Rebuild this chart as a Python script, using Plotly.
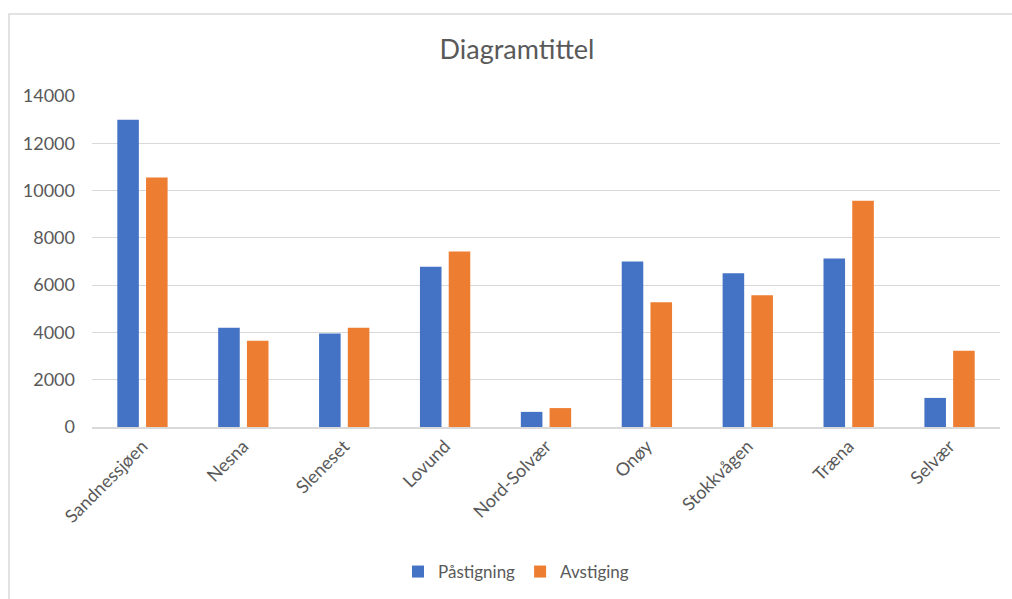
import plotly.graph_objects as go

# Boardings and alightings per stop
stops = ["Sandnessjøen", "Nesna", "Sleneset", "Lovund", "Nord-Solvær",
         "Onøy", "Stokkvågen", "Træna", "Selvær"]
pastigning = [13000, 4200, 3950, 6780, 640, 7000, 6500, 7130, 1230]
avstiging = [10550, 3650, 4200, 7420, 800, 5280, 5570, 9570, 3220]
y_ticks = [0, 2000, 4000, 6000, 8000, 10000, 12000, 14000]
y_tick_labels = [str(v) for v in y_ticks]

W, H = 1012, 599
L, R, T, B = 92, 12, 96, 172
plot_w = W - L - R
plot_h = H - T - B

TEXT = "#595959"
GRID = "#d9d9d9"
FONT = "Lato"

fig = go.Figure()
fig.add_trace(go.Bar(x=stops, y=pastigning, name="Påstigning",
                     marker=dict(color="#4472C4", line=dict(width=0))))
fig.add_trace(go.Bar(x=stops, y=avstiging, name="Avstiging",
                     marker=dict(color="#ED7D31", line=dict(width=0))))


def px_x(p):
    return (p - L) / plot_w


def px_y(p):
    return (H - B - p) / plot_h


# outer chart-area frame
fig.add_shape(type="rect", xref="paper", yref="paper",
              x0=px_x(9), x1=px_x(1020), y0=px_y(610), y1=px_y(14),
              line=dict(color=GRID, width=1.5), fillcolor="rgba(0,0,0,0)",
              layer="below")

fig.update_layout(
    width=W, height=H,
    margin=dict(l=L, r=R, t=T, b=B, autoexpand=False),
    paper_bgcolor="white", plot_bgcolor="white",
    font=dict(family=FONT, color=TEXT, size=17),
    title=dict(text="Diagramtittel", x=517 / W, xanchor="center",
               y=1 - 50 / H, yanchor="middle", yref="container",
               font=dict(family=FONT, size=27, color=TEXT)),
    barmode="group", bargap=0.43, bargroupgap=0.25,
    showlegend=True,
    legend=dict(orientation="h", x=px_x(516), xanchor="center",
                y=px_y(572), yanchor="middle",
                font=dict(family=FONT, size=17, color=TEXT),
                itemwidth=30, traceorder="normal"),
    xaxis=dict(showgrid=False, showline=True, linecolor=GRID, linewidth=1.5,
               ticks="", tickangle=-45, tickfont=dict(size=18, color=TEXT)),
    yaxis=dict(range=[0, 14000], tickvals=y_ticks, ticktext=y_tick_labels,
               showgrid=True, gridcolor=GRID, gridwidth=1, zeroline=False,
               showline=False, ticks="", ticklabelstandoff=16,
               tickfont=dict(size=18, color=TEXT)),
)

fig.write_html("out.html")
